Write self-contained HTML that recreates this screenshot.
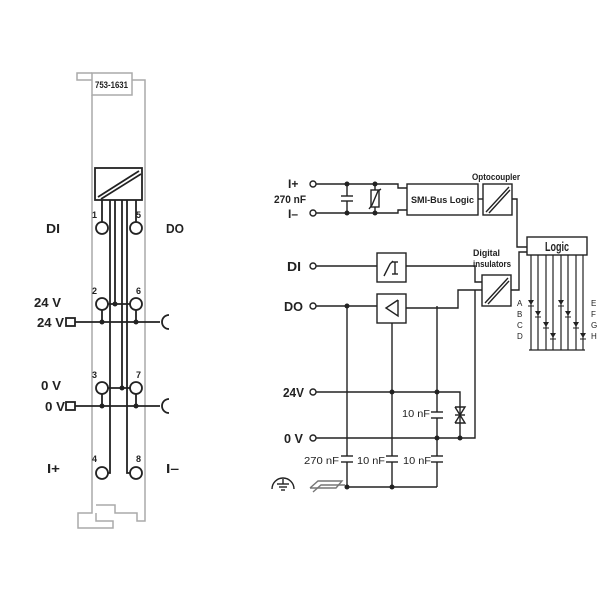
<!DOCTYPE html>
<html><head><style>
body{margin:0;background:#fff}
svg{display:block}
text{font-family:"Liberation Sans",sans-serif;fill:#222}
</style></head><body>
<svg width="600" height="600" viewBox="0 0 600 600" xmlns="http://www.w3.org/2000/svg">
<g fill="none" stroke="#aaa" stroke-width="1.5">
<polyline points="92,95 92,513 78,513 78,528 113,528 113,521 96,521 96,513"/>
<polyline points="145,95 145,521 137,521 137,513 115,513 115,505 96,505"/>
<polyline points="92,80 77,80 77,73 92,73"/>
<polyline points="132,80 145,80 145,95"/>
<rect x="92" y="73" width="40" height="22"/>
</g>
<text x="95" y="88" font-size="9" font-weight="bold" textLength="33" lengthAdjust="spacingAndGlyphs">753-1631</text>
<g stroke="#222" stroke-width="1.8" fill="none">
<rect x="95" y="168" width="47" height="32"/>
<line x1="98" y1="197" x2="139" y2="171"/>
<line x1="101" y1="199" x2="141" y2="174"/>
<line x1="102" y1="200" x2="102" y2="222"/>
<line x1="136" y1="200" x2="136" y2="222"/>
<polyline points="110,200 110,473 108,473"/>
<line x1="115" y1="200" x2="115" y2="304"/>
<line x1="122" y1="200" x2="122" y2="388"/>
<polyline points="127,200 127,473 130,473"/>
<circle cx="102" cy="228" r="6" fill="#fff"/><circle cx="136" cy="228" r="6" fill="#fff"/>
<circle cx="102" cy="304" r="6" fill="#fff"/><circle cx="136" cy="304" r="6" fill="#fff"/>
<circle cx="102" cy="388" r="6" fill="#fff"/><circle cx="136" cy="388" r="6" fill="#fff"/>
<circle cx="102" cy="473" r="6" fill="#fff"/><circle cx="136" cy="473" r="6" fill="#fff"/>
<line x1="108" y1="304" x2="130" y2="304"/><line x1="108" y1="388" x2="130" y2="388"/>
<line x1="102" y1="310" x2="102" y2="322"/><line x1="136" y1="310" x2="136" y2="322"/>
<line x1="102" y1="394" x2="102" y2="406"/><line x1="136" y1="394" x2="136" y2="406"/>
<line x1="75" y1="322" x2="160" y2="322"/><line x1="75" y1="406" x2="160" y2="406"/>
<rect x="66" y="318" width="9" height="8"/><rect x="66" y="402" width="9" height="8"/>
<path d="M169,315 A7,7 0 0 0 169,329"/><path d="M169,399 A7,7 0 0 0 169,413"/>
</g>
<g fill="#222">
<circle cx="115" cy="304" r="2.5"/><circle cx="122" cy="388" r="2.5"/>
<circle cx="102" cy="322" r="2.5"/><circle cx="136" cy="322" r="2.5"/>
<circle cx="102" cy="406" r="2.5"/><circle cx="136" cy="406" r="2.5"/>
</g>
<g font-size="9" font-weight="bold">
<text x="92" y="218">1</text><text x="136" y="218">5</text>
<text x="92" y="294">2</text><text x="136" y="294">6</text>
<text x="92" y="378">3</text><text x="136" y="378">7</text>
<text x="92" y="462">4</text><text x="136" y="462">8</text>
</g>
<g font-size="13" font-weight="bold">
<text x="46" y="233" textLength="14" lengthAdjust="spacingAndGlyphs">DI</text><text x="166" y="233" textLength="18" lengthAdjust="spacingAndGlyphs">DO</text>
<text x="34" y="307" textLength="27" lengthAdjust="spacingAndGlyphs">24 V</text><text x="37" y="327" textLength="27" lengthAdjust="spacingAndGlyphs">24 V</text>
<text x="41" y="390" textLength="20" lengthAdjust="spacingAndGlyphs">0 V</text><text x="45" y="411" textLength="20" lengthAdjust="spacingAndGlyphs">0 V</text>
<text x="47" y="473" textLength="13" lengthAdjust="spacingAndGlyphs">I+</text><text x="166" y="473" textLength="13" lengthAdjust="spacingAndGlyphs">I–</text>
</g>
<!-- right diagram -->
<g stroke="#222" stroke-width="1.4" fill="none">
<circle cx="313" cy="184" r="3"/><circle cx="313" cy="213" r="3"/>
<circle cx="313" cy="266" r="3"/><circle cx="313" cy="306" r="3"/>
<circle cx="313" cy="392" r="3"/><circle cx="313" cy="438" r="3"/>
<polyline points="316,184 398,184 398,188 407,188"/>
<polyline points="316,213 398,213 398,210 407,210"/>
<line x1="347" y1="184" x2="347" y2="196"/><line x1="347" y1="201" x2="347" y2="213"/>
<line x1="341" y1="196" x2="353" y2="196"/><line x1="341" y1="201" x2="353" y2="201"/>
<line x1="375" y1="184" x2="375" y2="213"/>
<rect x="371" y="190" width="8" height="17" fill="#fff"/>
<polyline points="369,209 372,205 378,191 381,189"/>
<rect x="407" y="184" width="71" height="31"/>
<line x1="478" y1="199" x2="483" y2="199"/>
<rect x="483" y="184" width="29" height="31"/>
<line x1="486" y1="212" x2="509" y2="187"/><line x1="489" y1="213" x2="510" y2="190"/>
<polyline points="512,199 517,199 517,247 527,247"/>
<rect x="527" y="237" width="60" height="18"/>
<polyline points="316,266 377,266"/>
<rect x="377" y="253" width="29" height="29"/>
<polyline points="384,276 390,264 393,261"/>
<line x1="395" y1="262" x2="395" y2="274"/><line x1="392" y1="262" x2="398" y2="262"/><line x1="392" y1="274" x2="398" y2="274"/>
<polyline points="406,266 475,266 475,282 482,282"/>
<line x1="316" y1="306" x2="377" y2="306"/>
<rect x="377" y="294" width="29" height="29"/>
<polyline points="398,300 386,308 398,316 398,300"/>
<polyline points="406,308 458,308 458,290 482,290"/>
<rect x="482" y="275" width="29" height="31"/>
<line x1="485" y1="303" x2="508" y2="278"/><line x1="488" y1="304" x2="509" y2="281"/>
<polyline points="511,290 519,290 519,252 527,252"/>
<line x1="347" y1="306" x2="347" y2="456"/><line x1="347" y1="462" x2="347" y2="487"/>
<line x1="392" y1="323" x2="392" y2="456"/><line x1="392" y1="462" x2="392" y2="487"/>
<line x1="437" y1="306" x2="437" y2="412"/><line x1="437" y1="418" x2="437" y2="456"/><line x1="437" y1="462" x2="437" y2="487"/>
<line x1="341" y1="456" x2="353" y2="456"/><line x1="341" y1="462" x2="353" y2="462"/>
<line x1="386" y1="456" x2="398" y2="456"/><line x1="386" y1="462" x2="398" y2="462"/>
<line x1="431" y1="456" x2="443" y2="456"/><line x1="431" y1="462" x2="443" y2="462"/>
<line x1="431" y1="412" x2="443" y2="412"/><line x1="431" y1="418" x2="443" y2="418"/>
<line x1="347" y1="487" x2="437" y2="487"/>
<polyline points="316,392 460,392 460,438"/>
<polyline points="316,438 475,438 475,290"/>
<polyline points="455,407 465,407 460,415 455,407"/>
<polyline points="455,423 465,423 460,415 455,423"/>
<line x1="455" y1="415" x2="465" y2="415"/>
<g stroke-width="1.2">
<line x1="531" y1="255" x2="531" y2="350"/><line x1="538" y1="255" x2="538" y2="350"/>
<line x1="546" y1="255" x2="546" y2="350"/><line x1="553" y1="255" x2="553" y2="350"/>
<line x1="561" y1="255" x2="561" y2="350"/><line x1="568" y1="255" x2="568" y2="350"/>
<line x1="576" y1="255" x2="576" y2="350"/><line x1="583" y1="255" x2="583" y2="350"/>
<line x1="529" y1="350" x2="585" y2="350"/>
</g>
<path d="M272,489 A10,10 0 0 1 294,489"/>
<line x1="283" y1="479" x2="283" y2="484"/><line x1="277" y1="484" x2="289" y2="484"/>
<line x1="279" y1="487" x2="287" y2="487"/><line x1="281" y1="490" x2="285" y2="490"/>
<polyline points="310,488 318,481 342,481 336,488 310,488" stroke="#777"/>
<polyline points="313,492 321,485 345,485" stroke="#777"/>
</g>
<g fill="#222">
<circle cx="347" cy="184" r="2.5"/><circle cx="347" cy="213" r="2.5"/>
<circle cx="375" cy="184" r="2.5"/><circle cx="375" cy="213" r="2.5"/>
<circle cx="347" cy="306" r="2.5"/>
<circle cx="392" cy="392" r="2.5"/><circle cx="437" cy="392" r="2.5"/>
<circle cx="437" cy="438" r="2.5"/><circle cx="460" cy="438" r="2.5"/>
<circle cx="347" cy="487" r="2.5"/><circle cx="392" cy="487" r="2.5"/>
<path d="M528,300 h6 l-3,5z M535,311 h6 l-3,5z M543,322 h6 l-3,5z M550,333 h6 l-3,5z M558,300 h6 l-3,5z M565,311 h6 l-3,5z M573,322 h6 l-3,5z M580,333 h6 l-3,5z"/>
<path d="M528,305.5 h6 v1 h-6z M535,316.5 h6 v1 h-6z M543,327.5 h6 v1 h-6z M550,338.5 h6 v1 h-6z M558,305.5 h6 v1 h-6z M565,316.5 h6 v1 h-6z M573,327.5 h6 v1 h-6z M580,338.5 h6 v1 h-6z"/>
</g>
<g font-size="8">
<text x="517" y="306">A</text><text x="517" y="317">B</text><text x="517" y="328">C</text><text x="517" y="339">D</text>
<text x="591" y="306">E</text><text x="591" y="317">F</text><text x="591" y="328">G</text><text x="591" y="339">H</text>
</g>
<g font-size="12" font-weight="bold">
<text x="288" y="188">I+</text><text x="288" y="218">I–</text>
<text x="274" y="203" font-size="11" textLength="32" lengthAdjust="spacingAndGlyphs">270 nF</text>
<text x="287" y="271" font-size="13" textLength="14" lengthAdjust="spacingAndGlyphs">DI</text><text x="284" y="311" font-size="13" textLength="19" lengthAdjust="spacingAndGlyphs">DO</text>
<text x="283" y="397" font-size="13" textLength="21" lengthAdjust="spacingAndGlyphs">24V</text><text x="284" y="443" font-size="13" textLength="19" lengthAdjust="spacingAndGlyphs">0 V</text>
</g>
<g font-size="9" font-weight="bold">
<text x="411" y="203" textLength="63" lengthAdjust="spacingAndGlyphs">SMI-Bus Logic</text>
<text x="472" y="180" textLength="48" lengthAdjust="spacingAndGlyphs">Optocoupler</text>
<text x="473" y="256" textLength="27" lengthAdjust="spacingAndGlyphs">Digital</text><text x="473" y="267" textLength="38" lengthAdjust="spacingAndGlyphs">insulators</text>
<text x="545" y="251" font-size="13" textLength="24" lengthAdjust="spacingAndGlyphs">Logic</text>
</g>
<g font-size="10">
<text x="402" y="417" textLength="28" lengthAdjust="spacingAndGlyphs">10 nF</text>
<text x="304" y="464" textLength="35" lengthAdjust="spacingAndGlyphs">270 nF</text>
<text x="357" y="464" textLength="28" lengthAdjust="spacingAndGlyphs">10 nF</text>
<text x="403" y="464" textLength="28" lengthAdjust="spacingAndGlyphs">10 nF</text>
</g>
</svg>
</body></html>
